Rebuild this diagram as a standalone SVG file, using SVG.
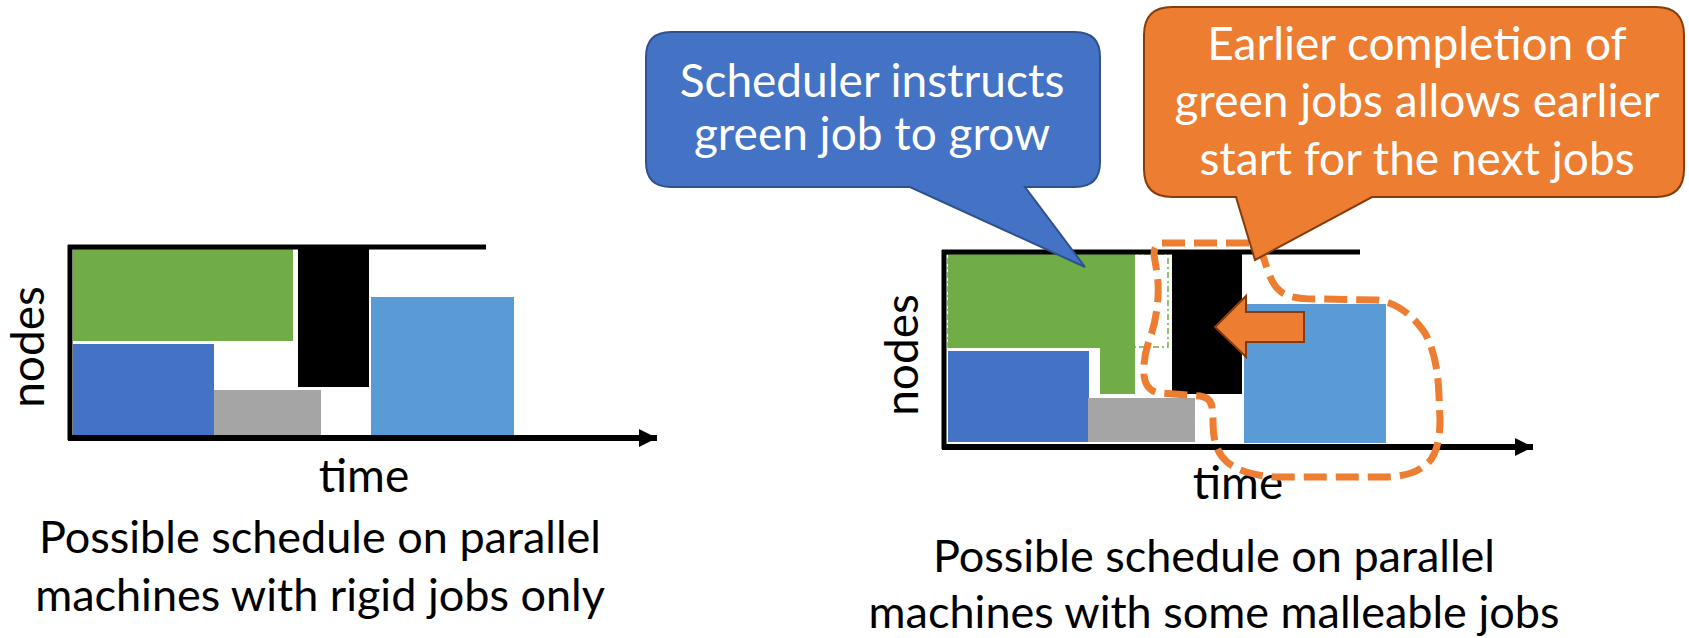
<svg xmlns="http://www.w3.org/2000/svg" width="1689" height="638" viewBox="0 0 1689 638">
  <style>
    text { font-family: Lato, "Open Sans", "Liberation Sans", sans-serif; font-size: 46px; }
    .lbl { fill: #000; text-anchor: middle; }
    .cap { font-size: 45px; }
    .wht { fill: #fff; text-anchor: middle; }
    .axis { stroke: #000; stroke-width: 5; fill: none; }
    .base { stroke: #000; stroke-width: 6; fill: none; }
    .green { fill: #70AD47; }
    .blue { fill: #4472C4; }
    .grey { fill: #A5A5A5; }
    .black { fill: #000; }
    .lblue { fill: #5B9BD5; }
  </style>
  <defs>
    <marker id="arrow" viewBox="0 0 10 10" refX="10" refY="5" markerWidth="3" markerHeight="3" orient="auto" markerUnits="strokeWidth">
      <path d="M0,0 L10,5 L0,10 Z" fill="#000"/>
    </marker>
  </defs>

  <!-- Left schedule: rigid jobs -->
  <g id="rigid-schedule">
    <rect class="green" x="73" y="249" width="220" height="92"/>
    <rect class="blue" x="73" y="344" width="141" height="91"/>
    <rect class="grey" x="214" y="390" width="107" height="45"/>
    <rect class="black" x="298" y="249" width="71" height="138"/>
    <rect class="lblue" x="371" y="297" width="143" height="140"/>
  </g>
  <g id="rigid-axes">
    <path class="axis" d="M68,247 H486"/>
    <path class="axis" d="M70,245 V440"/>
    <path class="base" d="M68,438 H657" marker-end="url(#arrow)"/>
  </g>
  <text id="rigid-nodes" class="lbl" transform="translate(44,347) rotate(-90)">nodes</text>
  <text id="rigid-time" class="lbl" x="364" y="492">time</text>
  <g id="rigid-caption">
    <text class="lbl cap" x="320" y="553">Possible schedule on parallel</text>
    <text class="lbl cap" x="320" y="611">machines with rigid jobs only</text>
  </g>

  <!-- Right schedule: malleable jobs -->
  <g id="malleable-schedule">
    <path class="green" d="M948,254 H1135 V394 H1100 V348 H948 Z"/>
    <rect x="948" y="254" width="220" height="93" fill="none" stroke="#70AD47" stroke-width="1.5" stroke-dasharray="6 3 2 3"/>
    <rect class="blue" x="948" y="351" width="141" height="91"/>
    <rect class="grey" x="1088" y="398" width="107" height="44"/>
    <rect class="black" x="1172" y="252" width="70" height="142"/>
    <rect class="lblue" x="1244" y="304" width="142" height="139"/>
  </g>
  <g id="malleable-axes">
    <path class="axis" d="M942,252 H1360"/>
    <path class="axis" d="M944,250 V449"/>
    <path class="base" d="M942,447 H1533" marker-end="url(#arrow)"/>
  </g>
  <text id="malleable-nodes" class="lbl" transform="translate(918,355) rotate(-90)">nodes</text>
  <text id="malleable-time" class="lbl" x="1238" y="499">time</text>
  <g id="malleable-caption">
    <text class="lbl cap" x="1214" y="572">Possible schedule on parallel</text>
    <text class="lbl cap" x="1214" y="628">machines with some malleable jobs</text>
  </g>

  <!-- Shift arrow and the group of jobs that moves earlier -->
  <g id="connectors">
    <path id="moved-jobs" d="M1162,243 L1250,243 C1258,246 1262,252 1265,262 C1268,272 1272,284 1279,290 C1285,296 1295,299 1317,299 L1377,300 C1395,302 1412,314 1425,333 C1435,352 1438,372 1439,395 L1440,420 C1440,440 1436,455 1428,463 C1418,472 1405,477 1383,477 L1277,477 C1255,476 1238,471 1227,462 C1216,452 1213,440 1213,420 L1212,407 C1211,400 1207,397 1200,396 L1160,393 C1150,392 1145,385 1144,375 C1143,362 1146,348 1150,338 C1156,322 1159,300 1158,283 C1157,270 1155,262 1154,255 C1154,248 1156,244 1162,243 Z" fill="none" stroke="#ED7D31" stroke-width="7" stroke-dasharray="23 9"/>
    <path id="shift-arrow" d="M1215,327 L1246,296 V312 H1304 V342 H1246 V357 Z" fill="#ED7D31" stroke="#843C0C" stroke-width="2"/>
  </g>

  <!-- Callouts -->
  <g id="callout-grow">
    <path d="M671,32 H1075 Q1100,32 1100,57 V162 Q1100,187 1075,187 H1025 L1085,267 L910,187 H671 Q646,187 646,162 V57 Q646,32 671,32 Z" fill="#4472C4" stroke="#2F528F" stroke-width="2"/>
    <text class="wht" x="872" y="97" font-size="43">Scheduler instructs</text>
    <text class="wht" x="872" y="150" font-size="43">green job to grow</text>
  </g>
  <g id="callout-earlier">
    <path d="M1172,7 H1656 Q1684,7 1684,35 V169 Q1684,197 1656,197 H1372 L1255,260 L1236,197 H1172 Q1144,197 1144,169 V35 Q1144,7 1172,7 Z" fill="#ED7D31" stroke="#843C0C" stroke-width="2"/>
    <text class="wht" x="1417" y="60">Earlier completion of</text>
    <text class="wht" x="1417" y="117">green jobs allows earlier</text>
    <text class="wht" x="1417" y="175">start for the next jobs</text>
  </g>
</svg>
